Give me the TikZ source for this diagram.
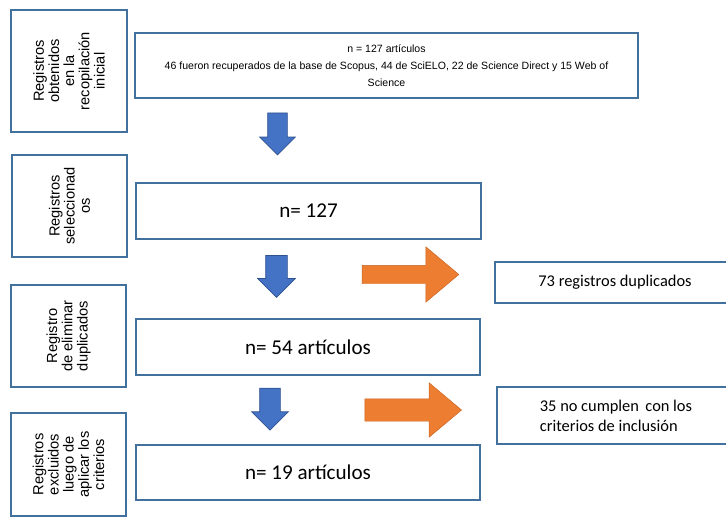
\documentclass[tikz,border=0pt]{standalone}
\usepackage{fontspec}
\setmainfont{Liberation Sans}
\newfontfamily\calibri{Carlito}
\usetikzlibrary{shapes.arrows}

\definecolor{marco}{RGB}{65,113,156}
\definecolor{azul}{RGB}{68,114,196}
\definecolor{azulosc}{RGB}{47,82,143}
\definecolor{naranja}{RGB}{237,125,49}
\definecolor{naranjaosc}{RGB}{200,100,35}

\tikzset{
  caja/.style={draw=marco, line width=1.5pt, rectangle, fill=white, inner sep=2pt},
  etiqueta/.style={rotate=90, align=center, font=\fontsize{12.5}{13}\selectfont},
  flechaabajo/.style={single arrow, draw=azulosc, fill=azul, line width=0.6pt, inner xsep=0pt,
    minimum height=1.26cm, single arrow head extend=0.24cm, rotate=-90},
  flechader/.style={single arrow, draw=naranjaosc, fill=naranja, line width=0.4pt, inner xsep=0pt,
    minimum height=2.9cm, single arrow tip angle=80}
}

\begin{document}
\begin{tikzpicture}[x=0.03cm, y=-0.03cm]
    \useasboundingbox (0,0) rectangle (726,518);

    % etapas de la izquierda
    \node[caja, minimum width=3.48cm, minimum height=3.66cm] (etapa1) at (69,71) {};
    \node[caja, minimum width=3.45cm, minimum height=3.06cm] (etapa2) at (69.5,206) {};
    \node[caja, minimum width=3.45cm, minimum height=3.06cm] (etapa3) at (68.5,336) {};
    \node[caja, minimum width=3.45cm, minimum height=3.09cm] (etapa4) at (68.5,464.5) {};

    \node[etiqueta] (txt1) at (etapa1.center) {Registros\\obtenidos\\en la\\recopilación\\inicial};
    \node[etiqueta] (txt2) at (etapa2.center) {Registros\\seleccionad\\os};
    \node[etiqueta] (txt3) at (etapa3.center) {Registro\\de eliminar\\duplicados};
    \node[etiqueta] (txt4) at (etapa4.center) {Registros\\excluidos\\luego de\\aplicar los\\criterios};

    % cajas centrales
    \node[caja, minimum width=15.09cm, minimum height=1.95cm, align=center,
          font=\fontsize{9}{14.5}\selectfont] (inicio) at (386.5,65.5)
          {n = 127 artículos\\46 fueron recuperados de la base de Scopus, 44 de SciELO, 22 de Science Direct y 15 Web of\\Science};
    \node[caja, minimum width=10.35cm, minimum height=1.68cm, font=\calibri\fontsize{18}{20}\selectfont] (selec) at (308.5,211) {n= 127};
    \node[caja, minimum width=10.32cm, minimum height=1.68cm, font=\calibri\fontsize{18}{20}\selectfont] (sindup) at (308,347) {n= 54 artículos};
    \node[caja, minimum width=10.32cm, minimum height=1.65cm, font=\calibri\fontsize{18}{20}\selectfont] (final) at (308,472.5) {n= 19 artículos};

    % cajas de la derecha
    \node[caja, minimum width=7.2cm, minimum height=1.23cm, font=\calibri\fontsize{14}{17}\selectfont] (dup) at (615,282.5) {73 registros duplicados};
    \node[caja, minimum width=7.14cm, minimum height=1.71cm, align=left,
          font=\calibri\fontsize{14}{17}\selectfont] (excl) at (616,415.5) {35 no cumplen\, con los\\criterios de inclusión};

    % flechas azules
    \node[flechaabajo, inner ysep=0.285cm] (baja1) at (277.5,129) {};
    \node[flechaabajo, inner ysep=0.315cm] (baja2) at (276.5,271) {};
    \node[flechaabajo, inner ysep=0.3cm] (baja3) at (270,404) {};

    % flechas naranjas
    \node[flechader, inner ysep=0.27cm, single arrow head extend=0.555cm] (lado1) at (405,274.5) {};
    \node[flechader, inner ysep=0.33cm, single arrow head extend=0.48cm] (lado2) at (406.5,410) {};
\end{tikzpicture}
\end{document}
